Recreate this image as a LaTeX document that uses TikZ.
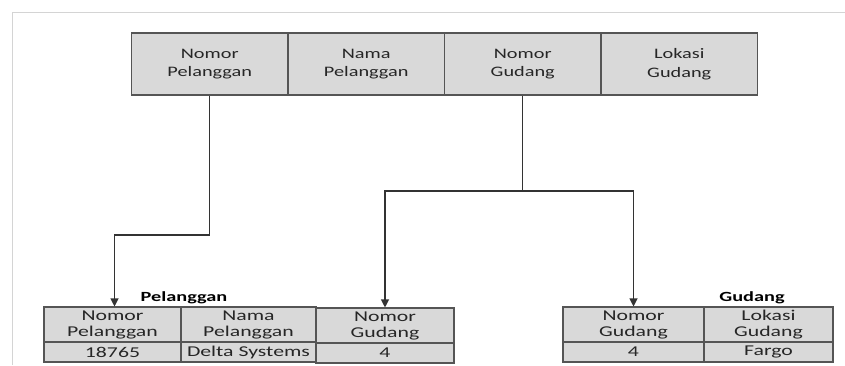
\documentclass[tikz,border=0pt]{standalone}
\usepackage{fontspec}
\usetikzlibrary{arrows.meta}
\setmainfont{Carlito}
\newfontfamily\topfont[FakeStretch=1.4]{Carlito}
\newfontfamily\cellfont[FakeStretch=1.45]{Carlito}
\definecolor{cellfill}{HTML}{D9D9D9}
\definecolor{cellline}{HTML}{555555}
\definecolor{framegray}{HTML}{D4D4D4}
\tikzset{
  cell/.style={draw=cellline, fill=cellfill, line width=1.1pt, inner sep=0pt,
    align=center, font=\cellfont\fontsize{15}{16}\selectfont, text=black!85},
  topcell/.style={cell, minimum width=156.5pt, minimum height=62pt,
    font=\topfont\fontsize{14.5}{18.5}\selectfont},
  headcell/.style={cell, minimum height=35pt, font=\cellfont\fontsize{15}{16}\selectfont},
  datacell/.style={cell, minimum height=20pt},
  tabletitle/.style={font=\cellfont\bfseries\fontsize{14}{16}\selectfont, inner sep=0pt},
  link/.style={draw=black!80, line width=1.1pt},
  arr/.style={link, -{Triangle[width=8pt,length=8pt]}}
}
\begin{document}
\begin{tikzpicture}[x=1pt, y=-1pt]
  \useasboundingbox (0,0) rectangle (845,365);
  % page frame
  \draw[framegray, line width=0.8pt] (12,365) -- (12,12) -- (845,12);

  % combined record
  \node[topcell] (t1) at (209.75,64) {Nomor\\Pelanggan};
  \node[topcell] (t2) at (366.25,64) {Nama\\Pelanggan};
  \node[topcell] (t3) at (522.75,64) {Nomor\\Gudang};
  \node[topcell] (t4) at (679.25,64) {Lokasi\\Gudang};

  % Pelanggan table
  \node[headcell, minimum width=137pt] (p1) at (112.5,324.5) {Nomor\\Pelanggan};
  \node[headcell, minimum width=135pt] (p2) at (248.5,324.5) {Nama\\Pelanggan};
  \node[headcell, minimum width=138pt] (p3) at (385,325.5) {Nomor\\Gudang};
  \node[datacell, minimum width=137pt] (p1d) at (112.5,352) {18765};
  \node[datacell, minimum width=135pt] (p2d) at (248.5,352) {Delta Systems};
  \node[datacell, minimum width=138pt] (p3d) at (385,353) {4};
  \node[tabletitle, anchor=base] (pt) at (184,301) {Pelanggan};

  % Gudang table
  \node[headcell, minimum width=141pt] (g1) at (633.5,324.5) {Nomor\\Gudang};
  \node[headcell, minimum width=129pt] (g2) at (768.5,324.5) {Lokasi\\Gudang};
  \node[datacell, minimum width=141pt] (g1d) at (633.5,352) {4};
  \node[datacell, minimum width=129pt] (g2d) at (768.5,352) {Fargo};
  \node[tabletitle, anchor=base] (gt) at (752,301) {Gudang};

  % connectors
  \coordinate (k1) at (0,235);
  \coordinate (k2) at (0,191);
  \draw[arr] (t1.south) -- (t1.south |- k1) -| ([xshift=2pt]p1.north);
  \draw[link] (t3.south) -- (t3.south |- k2);
  \draw[arr] (t3.south |- k2) -| (p3.north);
  \draw[arr] (t3.south |- k2) -| (g1.north);
\end{tikzpicture}
\end{document}
